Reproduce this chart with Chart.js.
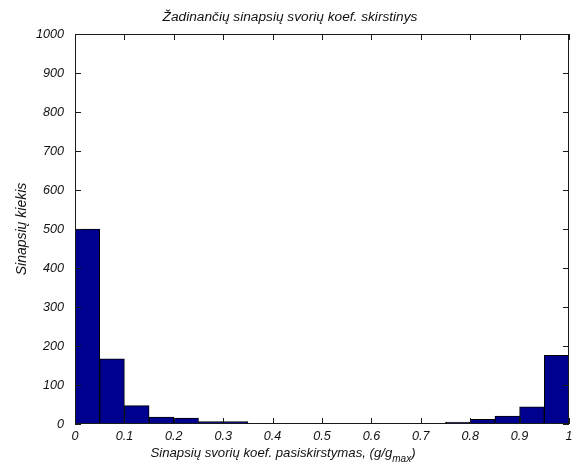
<!DOCTYPE html>
<html>
<head>
<meta charset="utf-8">
<script src="https://cdn.jsdelivr.net/npm/chart.js@4.4.1/dist/chart.umd.min.js"></script>
<style>
  html, body { margin: 0; padding: 0; background: #fff; }
</style>
</head>
<body>
<canvas id="myChart" width="580" height="468"></canvas>
<script>
// histogram bins (width 0.05) and counts per bin
const binCenters = [0.025, 0.075, 0.125, 0.175, 0.225, 0.275, 0.325, 0.375, 0.425, 0.475,
                    0.525, 0.575, 0.625, 0.675, 0.725, 0.775, 0.825, 0.875, 0.925, 0.975];
const counts = [500, 167, 47, 18, 15, 6, 6, 0, 0, 2,
                0, 2, 0, 2, 0, 5, 12, 20, 44, 176];
const xTicks = [0, 0.1, 0.2, 0.3, 0.4, 0.5, 0.6, 0.7, 0.8, 0.9, 1];
const yTicks = [0, 100, 200, 300, 400, 500, 600, 700, 800, 900, 1000];

const titleText = 'Žadinančių sinapsių svorių koef. skirstinys';
const yLabel = 'Sinapsių kiekis';
const xLabel = 'Sinapsių svorių koef. pasiskirstymas, (g/g';

const FONT = '"Liberation Sans", Arial, sans-serif';

// matlab style: box around axes, ticks pointing inward on all sides, labels
const matlabAxes = {
  id: 'matlabAxes',
  afterDraw(chart) {
    const { ctx, chartArea: a } = chart;
    const x = chart.scales.x, y = chart.scales.y;
    const tl = 6;
    ctx.save();
    ctx.strokeStyle = '#1a1a1a';
    ctx.lineWidth = 1;
    ctx.beginPath();
    ctx.rect(a.left + 0.5, a.top + 0.5, a.right - a.left - 1, a.bottom - a.top - 1);
    ctx.stroke();
    ctx.beginPath();
    xTicks.forEach(v => {
      const px = Math.round(x.getPixelForValue(v)) + 0.5;
      ctx.moveTo(px, a.bottom); ctx.lineTo(px, a.bottom - tl);
      ctx.moveTo(px, a.top); ctx.lineTo(px, a.top + tl);
    });
    yTicks.forEach(v => {
      const py = Math.round(y.getPixelForValue(v)) + 0.5;
      ctx.moveTo(a.left, py); ctx.lineTo(a.left + tl, py);
      ctx.moveTo(a.right, py); ctx.lineTo(a.right - tl, py);
    });
    ctx.stroke();

    ctx.fillStyle = '#111';
    ctx.font = 'italic 13.7px ' + FONT;
    ctx.textBaseline = 'middle';
    ctx.textAlign = 'center';
    ctx.fillText(titleText, 290, 17);

    // x label with subscript
    const sub = 'max';
    ctx.font = 'italic 13.2px ' + FONT;
    const w1 = ctx.measureText(xLabel).width;
    ctx.font = 'italic 10px ' + FONT;
    const w2 = ctx.measureText(sub).width;
    ctx.font = 'italic 13.2px ' + FONT;
    const w3 = ctx.measureText(')').width;
    let sx = 283 - (w1 + w2 + w3) / 2;
    ctx.textAlign = 'left';
    ctx.fillText(xLabel, sx, 453);
    sx += w1;
    ctx.font = 'italic 10px ' + FONT;
    ctx.fillText(sub, sx, 459);
    sx += w2;
    ctx.font = 'italic 13.2px ' + FONT;
    ctx.fillText(')', sx, 453);

    ctx.translate(22, (a.top + a.bottom) / 2);
    ctx.rotate(-Math.PI / 2);
    ctx.textAlign = 'center';
    ctx.font = 'italic 14px ' + FONT;
    ctx.fillText(yLabel, 0, 0);
    ctx.restore();
  }
};

const config = {
  type: 'bar',
  data: {
    datasets: [{
      data: binCenters.map((c, i) => ({ x: c, y: counts[i] })),
      backgroundColor: '#00008F',
      borderColor: '#000',
      borderWidth: 1,
      borderSkipped: false,
      barPercentage: 1,
      categoryPercentage: 1
    }]
  },
  options: {
    responsive: false,
    animation: false,
    layout: { padding: { top: 34, right: 11, left: 0, bottom: 0 } },
    plugins: {
      legend: { display: false },
      tooltip: { enabled: false }
    },
    scales: {
      x: {
        type: 'linear',
        min: 0,
        max: 1,
        offset: false,
        grid: { display: false, drawTicks: false },
        border: { display: false },
        afterBuildTicks: s => { s.ticks = xTicks.map(v => ({ value: v })); },
        afterFit: s => { s.height = 44; },
        ticks: {
          padding: 5,
          color: '#111',
          font: { family: FONT, size: 12.6, style: 'italic' },
          callback: v => String(v)
        }
      },
      y: {
        min: 0,
        max: 1000,
        grid: { display: false, drawTicks: false },
        border: { display: false },
        afterBuildTicks: s => { s.ticks = yTicks.map(v => ({ value: v })); },
        afterFit: s => { s.width = 75; },
        ticks: {
          padding: 11,
          color: '#111',
          font: { family: FONT, size: 12.6, style: 'italic' },
          callback: v => String(v)
        }
      }
    }
  },
  plugins: [matlabAxes]
};

const myChart = new Chart(document.getElementById('myChart'), config);
</script>
</body>
</html>
